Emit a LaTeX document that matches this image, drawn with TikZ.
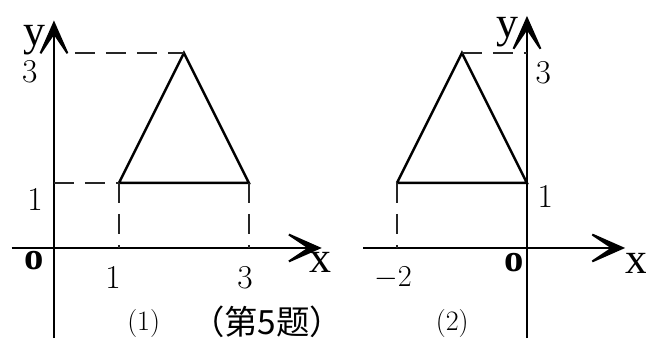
\documentclass[tikz,border=0pt]{standalone}
\usepackage{fontspec}
\newfontfamily\cjk{Noto Sans CJK SC}
\newfontfamily\tms{Liberation Serif}
\usetikzlibrary{arrows.meta}

\begin{document}
\begin{tikzpicture}[
    x=1.3cm,y=1.3cm,
    ax/.style={-{Stealth[length=8.5mm,width=7.5mm,inset=5.6mm]},line width=1.1pt},
    tri/.style={line width=1.4pt},
    gd/.style={dash pattern=on .4cm off .22cm,line width=1.1pt,black!85},
    big/.style={font=\tms\fontsize{25}{25}\selectfont,inner sep=0pt},
    org/.style={font=\tms\bfseries\fontsize{22}{22}\selectfont,inner sep=0pt},
    num/.style={font=\fontsize{19}{19}\selectfont,inner sep=0pt}
  ]
    \useasboundingbox (-.83,-1.385) rectangle (9.108,3.815);
    % (1)
    \coordinate (xl1) at (-.65,0); \coordinate (xr1) at (4.12,0);
    \coordinate (yb1) at (0,-1.385); \coordinate (yt1) at (0,3.5);
    \draw[ax] (xl1)--(xr1); \draw[ax] (yb1)--(yt1);
    \coordinate (a1) at (1,1); \coordinate (b1) at (2,3); \coordinate (c1) at (3,1);
    \coordinate (p3) at (.32,3); \coordinate (p1) at (0,1);
    \coordinate (q1) at (1,0); \coordinate (q3) at (3,0);
    \draw[tri] (a1)--(b1)--(c1)--(a1);
    \draw[gd] (p3)--(b1); \draw[gd] (p1)--(a1);
    \draw[gd] (a1)--(q1); \draw[gd] (c1)--(q3);
    \node[big] (ly1) at (-.3,3.2) {y};
    \node[big] (lx1) at (4.1,-.22) {x};
    \node[org] (lo1) at (-.3,-.2) {o};
    \node[num] (t31) at (-.37,2.71) {3};
    \node[num] (t11) at (-.29,.74) {1};
    \node[num] (s11) at (.91,-.45) {1};
    \node[num] (s31) at (2.94,-.45) {3};
    \node[font=\fontsize{16}{16}\selectfont,inner sep=0pt] (cap1) at (1.38,-1.16) {(1)};
    \node[font=\cjk\fontsize{19}{19}\selectfont,inner sep=0pt] (ti) at (3.28,-1.13) {（第5题）};
    % (2)
    \begin{scope}[xshift=7.277*1.3cm]
      \coordinate (xl2) at (-2.52,0); \coordinate (xr2) at (1.51,0);
      \coordinate (yb2) at (0,-1.385); \coordinate (yt2) at (0,3.57);
      \draw[ax] (xl2)--(xr2); \draw[ax] (yb2)--(yt2);
      \coordinate (a2) at (-2,1); \coordinate (b2) at (-1,3); \coordinate (c2) at (0,1);
      \coordinate (p2) at (0,3); \coordinate (q2) at (-2,0);
      \draw[tri] (a2)--(b2)--(c2)--(a2);
      \draw[gd] (b2)--(p2); \draw[gd] (a2)--(q2);
      \node[big] (ly2) at (-.3,3.32) {y};
      \node[big] (lx2) at (1.68,-.24) {x};
      \node[org] (lo2) at (-.2,-.22) {o};
      \node[num] (t32) at (.25,2.69) {3};
      \node[num] (t12) at (.28,.8) {1};
      \node[num] (s22) at (-2.06,-.46) {$-2$};
      \node[font=\fontsize{16}{16}\selectfont,inner sep=0pt] (cap2) at (-1.15,-1.16) {(2)};
    \end{scope}
  \end{tikzpicture}
\end{document}
